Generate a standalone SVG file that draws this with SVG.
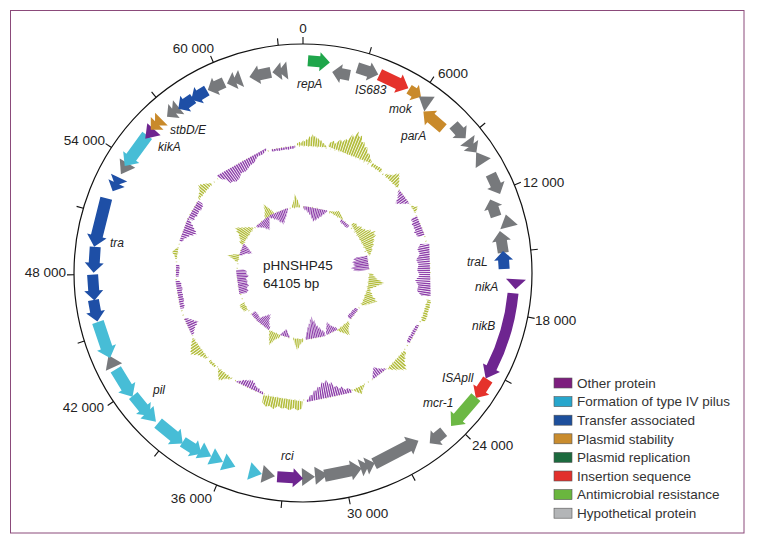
<svg xmlns="http://www.w3.org/2000/svg" xmlns:xlink="http://www.w3.org/1999/xlink" width="760" height="543" viewBox="0 0 760 543">
<style>
.gr{fill:#77797c}.gn{fill:#1fa64b}.rd{fill:#e5322b}.or{fill:#c98a2b}.pu{fill:#6e2590}.cy{fill:#47bdd6}.bl{fill:#1e4fa6}.lg{fill:#6cb844}
.y{fill:#b3bd3c}.p{fill:#8e40aa}
.tk{stroke:#111;stroke-width:1.1}
.tl{font-family:"Liberation Sans",Arial,sans-serif;font-size:13.5px;fill:#222}
.gl{font-family:"Liberation Sans",Arial,sans-serif;font-size:12px;font-style:italic;fill:#222}
.lt{font-family:"Liberation Sans",Arial,sans-serif;font-size:13.5px;fill:#333}
.sw{stroke:#555;stroke-width:.6}
</style>
<defs>
<path id="a14" d="M-7-5H-1V-9L7 0L-1 9V5H-7Z"/>
<path id="a18" d="M-9-5.5H0V-9.5L9 0L0 9.5V5.5H-9Z"/>
<path id="a22" d="M-11-5.5H1V-9.5L11 0L1 9.5V5.5H-11Z"/>
<path id="a26" d="M-13-5.5H3V-9.5L13 0L3 9.5V5.5H-13Z"/>
<path id="a32" d="M-16-6H5V-10L16 0L5 10V6H-16Z"/>
<path id="a38" d="M-19-6H8V-10L19 0L8 10V6H-19Z"/>
<path id="a50" d="M-25-6H14V-10L25 0L14 10V6H-25Z"/>
<path id="tri" d="M-6-9L7 0L-6 9Z"/>
<path id="dbl" d="M-8-9L1 0L-8 9ZM-2-9L7 0L-2 9Z"/>
<path id="nk" d="M-5-10L5 0L-5 10Z"/>
<path id="h1" d="M-1 0V-.15L-.85-.3L-.75-.2L-.6-.45L-.5-.35L-.4-.55L-.3-.5L-.2-.82L-.1-.7L0-1L.1-.8L.2-.9L.3-.65L.4-.7L.5-.5L.6-.55L.7-.3L.8-.35L.9-.15L1-.1V0Z"/>
<path id="h2" d="M-1 0V-.1L-.8-.25L-.6-.2L-.4-.45L-.2-.5L0-.7L.2-.65L.35-.9L.5-1L.6-.85L.7-.9L.8-.5L.9-.4L1-.1V0Z"/>
<path id="fl" d="M-1 0V-.6L-.8-.8L-.6-.65L-.4-.9L-.2-.75L0-.85L.2-.7L.4-1L.6-.8L.8-.9L1-.6V0Z"/>
</defs>
<rect x="10.5" y="10.5" width="733.5" height="522.5" fill="#fff" stroke="#8b4a7a" stroke-width="1"/>

<g id="gc-rings">
<circle cx="303" cy="273" r="127" fill="none" stroke="#c2c862" stroke-width="1.6" stroke-dasharray="1 3.5"/>
<circle cx="303" cy="273" r="66" fill="none" stroke="#c2c862" stroke-width="1.6" stroke-dasharray="1 3.5"/>
<g transform="translate(303 273)">
<use href="#h1" class="y" transform="rotate(4) translate(0 -127) scale(15 12)"/>
<use href="#h1" class="y" transform="rotate(21.5) translate(0 -127) scale(23 25)"/>
<use href="#fl" class="y" transform="rotate(35) translate(0 -127) scale(6 4)"/>
<use href="#h1" class="y" transform="rotate(44) translate(0 -127) scale(9 12)"/>
<use href="#h1" class="p" transform="rotate(53) translate(0 -127) scale(8 -12)"/>
<use href="#h1" class="y" transform="rotate(60) translate(0 -127) scale(4 6)"/>
<use href="#fl" class="p" transform="rotate(68) translate(0 -127) scale(10 -9)"/>
<use href="#fl" class="p" transform="rotate(88.5) translate(0 -127) scale(26 -15)"/>
<use href="#fl" class="y" transform="rotate(107) translate(0 -127) scale(11 5)"/>
<use href="#fl" class="p" transform="rotate(119) translate(0 -127) scale(10 -4)"/>
<use href="#h1" class="y" transform="rotate(133) translate(0 -127) scale(12 15)"/>
<use href="#h1" class="p" transform="rotate(143) translate(0 -127) scale(8 -10)"/>
<use href="#h1" class="y" transform="rotate(154) translate(0 -127) scale(6 8)"/>
<use href="#h1" class="p" transform="rotate(168) translate(0 -127) scale(23 -18)"/>
<use href="#fl" class="y" transform="rotate(189) translate(0 -127) scale(20 12)"/>
<use href="#h1" class="p" transform="rotate(205) translate(0 -127) scale(15 -9)"/>
<use href="#h1" class="y" transform="rotate(218) translate(0 -127) scale(8 10)"/>
<use href="#fl" class="y" transform="rotate(225) translate(0 -127) scale(4 3)"/>
<use href="#h1" class="y" transform="rotate(234) translate(0 -127) scale(12 12)"/>
<use href="#h1" class="p" transform="rotate(245) translate(0 -127) scale(9 -12)"/>
<use href="#fl" class="p" transform="rotate(260) translate(0 -127) scale(14 -6)"/>
<use href="#fl" class="p" transform="rotate(271) translate(0 -127) scale(6 -4)"/>
<use href="#h1" class="y" transform="rotate(279) translate(0 -127) scale(6 6)"/>
<use href="#h1" class="p" transform="rotate(290) translate(0 -127) scale(12 -14)"/>
<use href="#fl" class="p" transform="rotate(300) translate(0 -127) scale(10 -8)"/>
<use href="#h1" class="y" transform="rotate(310) translate(0 -127) scale(10 10)"/>
<use href="#h2" class="p" transform="rotate(331) translate(0 -127) scale(-28 -15)"/>
<use href="#fl" class="p" transform="rotate(351) translate(0 -127) scale(12 -3)"/>

<use href="#h1" class="y" transform="rotate(303.5) translate(0 -66) scale(10 16)"/>
<use href="#h1" class="p" transform="rotate(322) translate(0 -66) scale(8 -12)"/>
<use href="#h1" class="y" transform="rotate(330) translate(0 -66) scale(5 14)"/>
<use href="#h1" class="p" transform="rotate(338) translate(0 -66) scale(10 -14)"/>
<use href="#h1" class="y" transform="rotate(354) translate(0 -66) scale(4 14)"/>
<use href="#h1" class="p" transform="rotate(11) translate(0 -66) scale(12 -14)"/>
<use href="#h1" class="y" transform="rotate(30) translate(0 -66) scale(8 6)"/>
<use href="#fl" class="p" transform="rotate(40) translate(0 -66) scale(5 -4)"/>
<use href="#h1" class="y" transform="rotate(60) translate(0 -66) scale(18 18)"/>
<use href="#fl" class="p" transform="rotate(81) translate(0 -66) scale(7 -18)"/>
<use href="#h1" class="y" transform="rotate(97) translate(0 -66) scale(8 16)"/>
<use href="#h1" class="y" transform="rotate(111) translate(0 -66) scale(9 14)"/>
<use href="#fl" class="p" transform="rotate(129) translate(0 -66) scale(6 -5)"/>
<use href="#h1" class="y" transform="rotate(143) translate(0 -66) scale(7 12)"/>
<use href="#h1" class="p" transform="rotate(154) translate(0 -66) scale(6 -12)"/>
<use href="#h1" class="p" transform="rotate(169) translate(0 -66) scale(10 -22)"/>
<use href="#h1" class="y" transform="rotate(184) translate(0 -66) scale(5 12)"/>
<use href="#h1" class="p" transform="rotate(196) translate(0 -66) scale(5 -8)"/>
<use href="#h1" class="y" transform="rotate(205) translate(0 -66) scale(6 14)"/>
<use href="#h1" class="p" transform="rotate(218) translate(0 -66) scale(8 -14)"/>
<use href="#fl" class="p" transform="rotate(228) translate(0 -66) scale(4 -6)"/>
<use href="#fl" class="y" transform="rotate(240) translate(0 -66) scale(4 6)"/>
<use href="#fl" class="p" transform="rotate(262) translate(0 -66) scale(12 -12)"/>
<use href="#h1" class="y" transform="rotate(283) translate(0 -66) scale(4 12)"/>
<use href="#h1" class="p" transform="rotate(291) translate(0 -66) scale(6 -12)"/>
</g>
<circle cx="303" cy="273" r="127" fill="none" stroke="#fff" stroke-width="62" stroke-dasharray="0.8 1.5"/>
<circle cx="303" cy="273" r="66" fill="none" stroke="#fff" stroke-width="42" stroke-dasharray="0.6 1.2"/>
</g>

<g id="backbone">
<circle cx="303" cy="273" r="229" fill="none" stroke="#111" stroke-width="1.2"/>
<g class="tk">
<line x1="303" y1="44" x2="303" y2="37"/>
<line x1="303" y1="44" x2="303" y2="37" transform="rotate(16.85 303 273)"/>
<line x1="303" y1="44" x2="303" y2="37" transform="rotate(33.69 303 273)"/>
<line x1="303" y1="44" x2="303" y2="37" transform="rotate(50.54 303 273)"/>
<line x1="303" y1="44" x2="303" y2="37" transform="rotate(67.39 303 273)"/>
<line x1="303" y1="44" x2="303" y2="37" transform="rotate(84.24 303 273)"/>
<line x1="303" y1="44" x2="303" y2="37" transform="rotate(101.08 303 273)"/>
<line x1="303" y1="44" x2="303" y2="37" transform="rotate(117.93 303 273)"/>
<line x1="303" y1="44" x2="303" y2="37" transform="rotate(134.78 303 273)"/>
<line x1="303" y1="44" x2="303" y2="37" transform="rotate(151.62 303 273)"/>
<line x1="303" y1="44" x2="303" y2="37" transform="rotate(168.47 303 273)"/>
<line x1="303" y1="44" x2="303" y2="37" transform="rotate(185.32 303 273)"/>
<line x1="303" y1="44" x2="303" y2="37" transform="rotate(202.16 303 273)"/>
<line x1="303" y1="44" x2="303" y2="37" transform="rotate(219.01 303 273)"/>
<line x1="303" y1="44" x2="303" y2="37" transform="rotate(235.86 303 273)"/>
<line x1="303" y1="44" x2="303" y2="37" transform="rotate(252.70 303 273)"/>
<line x1="303" y1="44" x2="303" y2="37" transform="rotate(269.55 303 273)"/>
<line x1="303" y1="44" x2="303" y2="37" transform="rotate(286.40 303 273)"/>
<line x1="303" y1="44" x2="303" y2="37" transform="rotate(303.25 303 273)"/>
<line x1="303" y1="44" x2="303" y2="37" transform="rotate(320.09 303 273)"/>
<line x1="303" y1="44" x2="303" y2="37" transform="rotate(336.94 303 273)"/>
<line x1="303" y1="44" x2="303" y2="37" transform="rotate(353.79 303 273)"/>
</g>
<text class="tl" x="303" y="33" text-anchor="middle">0</text>
<text class="tl" x="438" y="78">6000</text>
<text class="tl" x="523" y="187">12 000</text>
<text class="tl" x="535" y="325">18 000</text>
<text class="tl" x="472" y="450">24 000</text>
<text class="tl" x="347" y="518">30 000</text>
<text class="tl" x="212" y="503" text-anchor="end">36 000</text>
<text class="tl" x="104" y="412" text-anchor="end">42 000</text>
<text class="tl" x="66" y="277" text-anchor="end">48 000</text>
<text class="tl" x="105" y="145" text-anchor="end">54 000</text>
<text class="tl" x="214" y="53" text-anchor="end">60 000</text>
</g>

<g id="genes">
<use href="#a22" class="gn" transform="rotate(4.3 303 273) translate(303 61)"/>
<use href="#a18" class="gr" transform="rotate(10.8 303 273) translate(303 70) scale(-1 1)"/>
<use href="#a22" class="gr" transform="rotate(17.8 303 273) translate(303 61)"/>
<use href="#a32" class="rd" transform="rotate(25.4 303 273) translate(303 61)"/>
<use href="#a14" class="or" transform="rotate(31.9 303 273) translate(303 61)"/>
<use href="#tri" class="gr" transform="rotate(35.2 303 273) translate(303 62) scale(-1 1)"/>
<use href="#a26" class="or" transform="rotate(40.4 303 273) translate(303 72) scale(-1 1)"/>
<use href="#a18" class="gr" transform="rotate(47.9 303 273) translate(303 62)"/>
<use href="#dbl" class="gr" transform="rotate(53.3 303 273) translate(303 62)"/>
<use href="#tri" class="gr" transform="rotate(57 303 273) translate(303 62) scale(-1 1)"/>
<use href="#a22" class="gr" transform="rotate(65.2 303 273) translate(303 61)"/>
<use href="#a18" class="gr" transform="rotate(71.1 303 273) translate(303 72) scale(-1 1)"/>
<use href="#tri" class="gr" transform="rotate(75.8 303 273) translate(303 62) scale(-1 1)"/>
<use href="#a22" class="gr" transform="rotate(81.1 303 273) translate(303 72) scale(-1 1)"/>
<use href="#a18" class="bl" transform="rotate(86.3 303 273) translate(303 72) scale(-1 1)"/>
<use href="#nk" class="pu" transform="rotate(93 303 273) translate(303 60)"/>
<path class="pu" d="M518.5 293.7A216.5 216.5 0 0 1 496.4 370.3L500 372.1L485.7 378.5L483 363.5L486.6 365.3A205.5 205.5 0 0 0 507.6 292.7Z"/>
<use href="#a22" class="rd" transform="rotate(122.9 303 273) translate(303 60)"/>
<use href="#a38" class="lg" transform="rotate(130.8 303 273) translate(303 61)"/>
<use href="#a18" class="gr" transform="rotate(140.9 303 273) translate(303 61)"/>
<use href="#a50" class="gr" transform="rotate(152.5 303 273) translate(303 71) scale(-1 1)"/>
<use href="#dbl" class="gr" transform="rotate(161.3 303 273) translate(303 70) scale(-1 1)"/>
<use href="#a38" class="gr" transform="rotate(168.6 303 273) translate(303 70) scale(-1 1)"/>
<use href="#tri" class="gr" transform="rotate(174.9 303 273) translate(303 70) scale(-1 1)"/>
<use href="#tri" class="gr" transform="rotate(178.6 303 273) translate(303 69) scale(-1 1)"/>
<use href="#a26" class="pu" transform="rotate(183.6 303 273) translate(303 68) scale(-1 1)"/>
<use href="#tri" class="gr" transform="rotate(189.8 303 273) translate(303 68) scale(-1 1)"/>
<use href="#tri" class="cy" transform="rotate(193.5 303 273) translate(303 68) scale(-1 1)"/>
<use href="#tri" class="cy" transform="rotate(201.2 303 273) translate(303 68) scale(-1 1)"/>
<use href="#tri" class="cy" transform="rotate(204.9 303 273) translate(303 68) scale(-1 1)"/>
<use href="#tri" class="cy" transform="rotate(208.5 303 273) translate(303 68) scale(-1 1)"/>
<use href="#a22" class="cy" transform="rotate(212.4 303 273) translate(303 66) scale(-1 1)"/>
<use href="#a32" class="cy" transform="rotate(219.6 303 273) translate(303 65) scale(-1 1)"/>
<use href="#tri" class="cy" transform="rotate(226.6 303 273) translate(303 64) scale(-1 1)"/>
<use href="#a26" class="cy" transform="rotate(230.6 303 273) translate(303 64) scale(-1 1)"/>
<use href="#a32" class="cy" transform="rotate(238.4 303 273) translate(303 63) scale(-1 1)"/>
<use href="#tri" class="gr" transform="rotate(245.2 303 273) translate(303 62)"/>
<use href="#a38" class="cy" transform="rotate(251.4 303 273) translate(303 63) scale(-1 1)"/>
<use href="#a22" class="bl" transform="rotate(259.7 303 273) translate(303 62) scale(-1 1)"/>
<use href="#a26" class="bl" transform="rotate(266 303 273) translate(303 63) scale(-1 1)"/>
<use href="#a26" class="bl" transform="rotate(273.6 303 273) translate(303 64) scale(-1 1)"/>
<use href="#a50" class="bl" transform="rotate(284 303 273) translate(303 64) scale(-1 1)"/>
<use href="#dbl" class="bl" transform="rotate(295.2 303 273) translate(303 66) scale(-1 1)"/>
<use href="#tri" class="gr" transform="rotate(300.4 303 273) translate(303 66) scale(-1 1)"/>
<use href="#a38" class="cy" transform="rotate(306.2 303 273) translate(303 66) scale(-1 1)"/>
<use href="#tri" class="pu" transform="rotate(312.3 303 273) translate(303 66) scale(-1 1)"/>
<use href="#dbl" class="or" transform="rotate(315.2 303 273) translate(303 64) scale(-1 1)"/>
<use href="#dbl" class="gr" transform="rotate(320.9 303 273) translate(303 66) scale(-1 1)"/>
<use href="#a18" class="bl" transform="rotate(325.3 303 273) translate(303 67) scale(-1 1)"/>
<use href="#a18" class="bl" transform="rotate(329.7 303 273) translate(303 67) scale(-1 1)"/>
<use href="#a18" class="gr" transform="rotate(335 303 273) translate(303 67) scale(-1 1)"/>
<use href="#dbl" class="gr" transform="rotate(340.1 303 273) translate(303 69) scale(-1 1)"/>
<use href="#a22" class="gr" transform="rotate(347.8 303 273) translate(303 70) scale(-1 1)"/>
<use href="#dbl" class="gr" transform="rotate(353.3 303 273) translate(303 70) scale(-1 1)"/>
</g>

<g id="gene-labels">
<text class="gl" x="297" y="88">repA</text>
<text class="gl" x="355" y="94">IS683</text>
<text class="gl" x="389" y="113">mok</text>
<text class="gl" x="401" y="140">parA</text>
<text class="gl" x="467" y="266">traL</text>
<text class="gl" x="475" y="291">nikA</text>
<text class="gl" x="472" y="330">nikB</text>
<text class="gl" x="442" y="382">ISApll</text>
<text class="gl" x="423" y="407">mcr-1</text>
<text class="gl" x="281" y="460">rci</text>
<text class="gl" x="153" y="394">pil</text>
<text class="gl" x="110" y="247">tra</text>
<text class="gl" x="158" y="151">kikA</text>
<text class="gl" x="170" y="134">stbD/E</text>
</g>

<g id="center-label">
<text class="tl" x="263" y="270">pHNSHP45</text>
<text class="tl" x="263" y="288">64105 bp</text>
</g>

<g id="legend">
<rect class="sw" x="554" y="378" width="18" height="10" fill="#7d1e7e"/>
<rect class="sw" x="554" y="396.6" width="18" height="10" fill="#27a6cc"/>
<rect class="sw" x="554" y="415.2" width="18" height="10" fill="#1d4f9c"/>
<rect class="sw" x="554" y="433.8" width="18" height="10" fill="#c98c2e"/>
<rect class="sw" x="554" y="452.4" width="18" height="10" fill="#1c6a3e"/>
<rect class="sw" x="554" y="471" width="18" height="10" fill="#e2302c"/>
<rect class="sw" x="554" y="489.6" width="18" height="10" fill="#6ab63e"/>
<rect class="sw" x="554" y="508.2" width="18" height="10" fill="#b3b5b7"/>
<text class="lt" x="577" y="387.8">Other protein</text>
<text class="lt" x="577" y="406.4">Formation of type IV pilus</text>
<text class="lt" x="577" y="425">Transfer associated</text>
<text class="lt" x="577" y="443.6">Plasmid stability</text>
<text class="lt" x="577" y="462.2">Plasmid replication</text>
<text class="lt" x="577" y="480.8">Insertion sequence</text>
<text class="lt" x="577" y="499.4">Antimicrobial resistance</text>
<text class="lt" x="577" y="518">Hypothetical protein</text>
</g>
</svg>
